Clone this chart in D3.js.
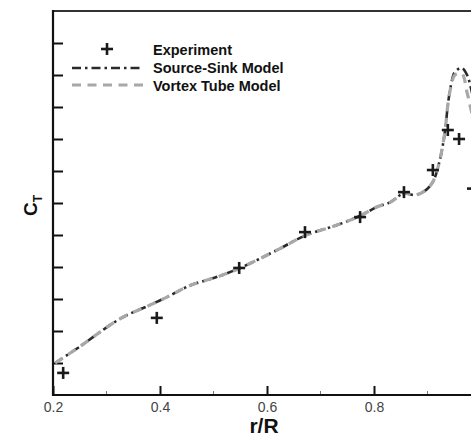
<!DOCTYPE html>
<meta charset="utf-8">
<script src="https://d3js.org/d3.v7.min.js"></script>
<style>
  body { margin: 0; background: #fff; }
  text { font-family: "Liberation Sans", Arial, sans-serif; }
</style>
<body>
<script>
// experiment points (r/R, CT in plot units)
var expX = [0.219, 0.394, 0.548, 0.671, 0.774, 0.856, 0.910, 0.938, 0.959, 0.985];
var expY = [0.69, 2.41, 3.97, 5.09, 5.56, 6.34, 7.03, 8.28, 8.00, 6.45];

// model curves
var curveX = [0.204, 0.249, 0.325, 0.381, 0.413, 0.456, 0.512, 0.550, 0.619, 0.671, 0.731, 0.774, 0.806, 0.830, 0.856, 0.877, 0.895, 0.910, 0.923, 0.933, 0.938, 0.944, 0.951, 0.964, 0.974, 0.981, 0.994];
var sourceSink = [1.00, 1.50, 2.38, 2.81, 3.06, 3.42, 3.72, 3.97, 4.53, 4.98, 5.31, 5.60, 5.88, 6.02, 6.30, 6.25, 6.38, 6.66, 7.34, 8.28, 9.06, 9.69, 10.09, 10.22, 10.00, 9.60, 8.60];
var vortexTube = [1.00, 1.50, 2.38, 2.81, 3.06, 3.42, 3.72, 3.97, 4.53, 4.98, 5.31, 5.60, 5.88, 6.02, 6.30, 6.25, 6.38, 6.66, 7.34, 8.28, 9.06, 9.65, 10.00, 10.05, 9.45, 8.95, 8.00];

var xTicks = [0.2, 0.4, 0.6, 0.8];
var xMinor = [0.3, 0.5, 0.7, 0.9];
var yTicks = [1, 2, 3, 4, 5, 6, 7, 8, 9, 10, 11];

var width = 471, height = 437;
var plotLeft = 53, plotTop = 11, plotBottom = 395;

var svg = d3.select("body").append("svg")
    .attr("width", width)
    .attr("height", height);

var x = d3.scaleLinear().domain([0.2, 1.0]).range([plotLeft, plotLeft + 428]);
var y = d3.scaleLinear().domain([0, 12]).range([plotBottom, plotTop]);

// frame top
svg.append("line").attr("x1", plotLeft).attr("x2", width).attr("y1", plotTop).attr("y2", plotTop)
    .attr("stroke", "#333").attr("stroke-width", 2.2);

// y axis, ticks inside, no labels
var yAxis = svg.append("g")
    .attr("transform", "translate(" + plotLeft + ",0)")
    .call(d3.axisRight(y).tickValues(yTicks).tickSize(10).tickFormat(""));
yAxis.select(".domain").remove();
yAxis.selectAll("line").attr("stroke", "#111").attr("stroke-width", 2);
svg.append("line").attr("x1", plotLeft).attr("x2", plotLeft).attr("y1", plotTop - 1).attr("y2", plotBottom + 1)
    .attr("stroke", "#111").attr("stroke-width", 2.2);

// x axis, major ticks up
var xAxis = svg.append("g")
    .attr("transform", "translate(0," + plotBottom + ")")
    .call(d3.axisTop(x).tickValues(xTicks).tickSize(9).tickFormat(d3.format(".1f")));
xAxis.select(".domain").remove();
xAxis.selectAll("line").attr("stroke", "#111").attr("stroke-width", 2);
xAxis.selectAll("text")
    .attr("y", 17).attr("dy", 0)
    .style("font-size", "14px").attr("fill", "#444");

svg.append("g").selectAll("line").data(xMinor).enter().append("line")
    .attr("x1", function(d) { return x(d); }).attr("x2", function(d) { return x(d); })
    .attr("y1", plotBottom).attr("y2", plotBottom - 4)
    .attr("stroke", "#777").attr("stroke-width", 1);

svg.append("line").attr("x1", plotLeft - 1).attr("x2", width).attr("y1", plotBottom).attr("y2", plotBottom)
    .attr("stroke", "#111").attr("stroke-width", 2.2);

// axis titles
svg.append("text")
    .attr("x", 264).attr("y", 433)
    .attr("text-anchor", "middle")
    .style("font-size", "21px").style("font-weight", "bold")
    .attr("fill", "#111")
    .text("r/R");

var yl = svg.append("text")
    .attr("transform", "translate(37,216) rotate(-90)")
    .style("font-size", "19px").style("font-weight", "bold")
    .attr("fill", "#111");
yl.append("tspan").text("C");
yl.append("tspan").attr("dy", 5).style("font-size", "12px").text("T");

// curves
var line = d3.line()
    .x(function(d) { return x(d[0]); })
    .y(function(d) { return y(d[1]); })
    .curve(d3.curveCatmullRom);

svg.append("path")
    .datum(d3.zip(curveX, sourceSink))
    .attr("d", line)
    .attr("fill", "none")
    .attr("stroke", "#2a2a2a")
    .attr("stroke-width", 2.6)
    .attr("stroke-dasharray", "9,4,2.5,4");

svg.append("path")
    .datum(d3.zip(curveX, vortexTube))
    .attr("d", line)
    .attr("fill", "none")
    .attr("stroke", "#a8a8a8")
    .attr("stroke-width", 3.2)
    .attr("stroke-dasharray", "9,6.5");

// experiment markers
function plus(g, cx, cy) {
  g.append("line").attr("x1", cx - 6).attr("x2", cx + 6).attr("y1", cy).attr("y2", cy);
  g.append("line").attr("x1", cx).attr("x2", cx).attr("y1", cy - 6).attr("y2", cy + 6);
}
var marks = svg.append("g").attr("stroke", "#1a1a1a").attr("stroke-width", 2.6);
d3.zip(expX, expY).forEach(function(d) { plus(marks, x(d[0]), y(d[1])); });

// legend
var lg = svg.append("g");
var lm = lg.append("g").attr("stroke", "#1a1a1a").attr("stroke-width", 2.6);
plus(lm, 107, 49);
lg.append("line").attr("x1", 72).attr("x2", 143).attr("y1", 68).attr("y2", 68)
    .attr("stroke", "#2a2a2a").attr("stroke-width", 2.6).attr("stroke-dasharray", "9,4,2.5,4");
lg.append("line").attr("x1", 72).attr("x2", 143).attr("y1", 85).attr("y2", 85)
    .attr("stroke", "#a8a8a8").attr("stroke-width", 3.2).attr("stroke-dasharray", "9,6.5");
var labels = ["Experiment", "Source-Sink Model", "Vortex Tube Model"];
lg.selectAll("text.lab").data(labels).enter().append("text")
    .attr("class", "lab")
    .attr("x", 153)
    .attr("y", function(d, i) { return 55 + i * 18; })
    .style("font-size", "14.5px").style("font-weight", "bold")
    .attr("fill", "#111")
    .text(function(d) { return d; });
</script>
</body>
